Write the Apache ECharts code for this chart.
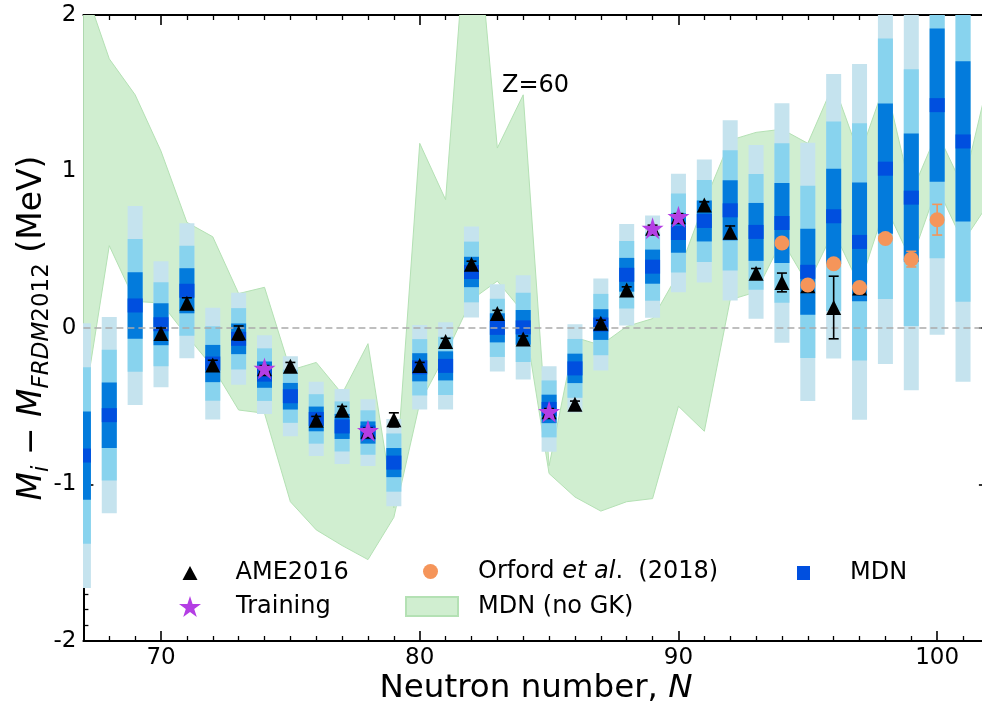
<!DOCTYPE html>
<html><head><meta charset="utf-8">
<script src="https://cdn.jsdelivr.net/npm/echarts@6/dist/echarts.min.js"></script>
<style>html,body{margin:0;padding:0;background:#fff}#c{width:982px;height:710px}</style>
</head><body><div id="c"></div>
<script>
// ---------------- data ----------------
const mdnN = [67,68,69,70,71,72,73,74,75,76,77,78,79,80,81,82,83,84,85,86,87,88,89,90,91,92,93,94,95,96,97,98,99,100,101];
const mdnMean = [-0.815,-0.557,0.144,0.024,0.238,-0.227,-0.069,-0.298,-0.436,-0.581,-0.629,-0.668,-0.860,-0.251,-0.242,0.358,0.001,0.004,-0.517,-0.258,0.022,0.340,0.392,0.607,0.684,0.752,0.614,0.671,0.359,0.714,0.550,1.018,0.833,1.424,1.192];
const mdnSigma = [0.282,0.209,0.212,0.134,0.144,0.119,0.098,0.084,0.085,0.079,0.080,0.071,0.093,0.090,0.093,0.097,0.093,0.111,0.091,0.094,0.098,0.108,0.109,0.126,0.131,0.192,0.185,0.255,0.275,0.303,0.379,0.416,0.410,0.489,0.512];

const ameN   = [70,71,72,73,74,75,76,77,78,79,80,81,82,83,84,85,86,87,88,89,90,91,92,93,94,95,96,97];
const ameVal = [-0.035,0.158,-0.236,-0.032,-0.26,-0.245,-0.59,-0.526,-0.66,-0.587,-0.24,-0.086,0.407,0.093,-0.071,-0.535,-0.487,0.03,0.243,0.637,0.711,0.786,0.612,0.35,0.291,0.27,0.131,0.255];
const ameErr = [0.035,0.035,0.03,0.045,0.02,0.025,0.025,0.025,0.02,0.045,0.02,0.02,0.02,0.02,0.02,0.02,0.02,0.02,0.02,0.02,0.02,0.02,0.04,0.03,0.06,0.03,0.2,0.03];

const trainN   = [74,78,85,89,90];
const trainVal = [-0.258,-0.656,-0.535,0.637,0.711];

const orfordN   = [94,95,96,97,98,99,100];
const orfordVal = [0.543,0.275,0.411,0.258,0.572,0.44,0.692];
const orfordErr = [0.02,0.02,0.02,0.02,0.02,0.05,0.098];

const gkN     = [67,68,69,70,71,72,73,74,75,76,77,78,79,80,81,82,83,84,85,86,87,88,89,90,91,92,93,94,95,96,97,98,99,100,101,102];
const gkUpper = [2.2,1.72,1.49,1.13,0.675,0.583,0.22,0.26,-0.27,-0.22,-0.42,-0.10,-1.15,1.18,0.82,3.0,1.15,1.49,-0.88,-0.06,-0.11,0.01,0.06,0.35,0.80,1.20,1.25,1.27,1.18,1.56,1.10,1.57,0.86,1.25,0.90,1.60];
const gkLower = [-0.52,0.526,0.17,0.16,-0.05,-0.25,-0.524,-0.545,-1.11,-1.29,-1.39,-1.48,-1.21,-0.48,-0.17,0.18,0.30,0.10,-0.93,-1.08,-1.17,-1.11,-1.09,-0.50,-0.66,0.18,0.23,0.56,0.28,0.62,0.27,0.78,0.43,0.90,0.55,0.80];

const xRange = [67, 102];
const yRange = [-2, 2];

// ---------------- styles ----------------
const FONT = 'DejaVu Sans';
const GREEN = '#d0eed0', GREEN_EDGE = '#b4e1b4';
const C_LIGHT = '#c5e3ee', C_SKY = '#88d3ee', C_BLUE = '#037bdc', C_DARK = '#004fdf';
const ORANGE = '#f5955a', PURPLE = '#b43ee4';
const starPath = 'path://M50,2 L61.2,36.2 L97.5,36.2 L68.2,57.6 L79.4,91.8 L50,70.6 L20.6,91.8 L31.8,57.6 L2.5,36.2 L38.8,36.2 Z';

const chart = echarts.init(document.getElementById('c'), null, {renderer:'canvas', width:982, height:710});

function errRender(color, capW, lw) {
  return function (params, api) {
    const x = api.value(0), v = api.value(1), e = api.value(2);
    const t = api.coord([x, v + e]), b = api.coord([x, v - e]);
    const st = {stroke: color, lineWidth: lw};
    return {type:'group', children:[
      {type:'line', shape:{x1:t[0], y1:t[1], x2:b[0], y2:b[1]}, style:st},
      {type:'line', shape:{x1:t[0]-capW/2, y1:t[1], x2:t[0]+capW/2, y2:t[1]}, style:st},
      {type:'line', shape:{x1:b[0]-capW/2, y1:b[1], x2:b[0]+capW/2, y2:b[1]}, style:st}
    ]};
  };
}

function xAxisDef(pos, showLabel) {
  return {
    type:'value', position:pos, min:xRange[0], max:xRange[1], minInterval:10, maxInterval:10,
    axisLine:{show:true, onZero:false, lineStyle:{color:'#000', width:2}},
    axisTick:{show:true, inside:true, length:10, lineStyle:{color:'#000', width:1.6}},
    minorTick:{show:true, splitNumber:10, length:5, lineStyle:{color:'#000', width:1.3}},
    splitLine:{show:false},
    axisLabel:{show:showLabel, showMinLabel:false, showMaxLabel:false, fontSize:23, color:'#000', fontFamily:FONT, margin:6}
  };
}
function yAxisDef(pos, showLabel) {
  return {
    type:'value', position:pos, min:yRange[0], max:yRange[1], interval:1,
    axisLine:{show:true, onZero:false, lineStyle:{color:'#000', width:2}},
    axisTick:{show:true, inside:true, length:10, lineStyle:{color:'#000', width:1.6}},
    minorTick:{show:true, splitNumber:10, length:5, lineStyle:{color:'#000', width:1.3}},
    splitLine:{show:false},
    axisLabel:{show:showLabel, fontSize:23, color:'#000', fontFamily:FONT, margin:7}
  };
}

function legendItem(name, left, top, w, h, pad, extraText, icon) {
  return {
    data:[icon ? {name:name, icon:icon} : name], left:left, top:top, itemWidth:w, itemHeight:h, padding:0, selectedMode:false,
    textStyle:Object.assign({fontSize:24, color:'#000', fontFamily:FONT, padding:[0,0,0,pad]}, extraText||{})
  };
}

const option = {
  animation:false,
  backgroundColor:'#fff',
  textStyle:{fontFamily:FONT},
  grid:{left:83.4, top:15, width:905.5, height:626, containLabel:false, outerBoundsMode:'none'},
  xAxis:[xAxisDef('bottom', true), xAxisDef('top', false)],
  yAxis:[yAxisDef('left', true), yAxisDef('right', false)],
  legend:[
    legendItem('AME2016', 182.5, 561, 15, 14, 33),
    legendItem('Training', 179, 594.5, 22, 21, 30),
    Object.assign(legendItem('Orford et al. (2018)', 423, 559.5, 15, 15, 35, {
      rich:{n:{fontSize:24, fontFamily:FONT, color:'#000'}, i:{fontSize:24, fontFamily:FONT, fontStyle:'italic', color:'#000'}}
    }), {formatter:function(){return '{n|Orford }{i|et al}{n|.  (2018)}';}}),
    legendItem('MDN (no GK)', 405, 594.5, 52, 19, 15, null, 'rect'),
    legendItem('MDN', 797, 561, 13, 14, 35, null, 'rect')
  ],
  graphic:[
    {type:'text', x:502, y:86, style:{text:'Z=60', font:'24px "DejaVu Sans"', fill:'#000', align:'left', verticalAlign:'middle'}},
    {type:'text', x:536, y:689, style:{
      text:'{n|Neutron number, }{i|N}', align:'center', verticalAlign:'middle',
      rich:{n:{fontSize:32.5, fontFamily:FONT, fill:'#000'}, i:{fontSize:32.5, fontFamily:FONT, fontStyle:'italic', fill:'#000'}}
    }},
    {type:'text', x:32, y:328, rotation:Math.PI/2, style:{
      text:'{mi|M}{si|i}{n| − }{mi|M}{si|FRDM}{sn|2012}{n| (MeV)}', align:'center', verticalAlign:'middle',
      rich:{
        mi:{fontSize:33, lineHeight:33, verticalAlign:'top', fontFamily:FONT, fontStyle:'italic', fill:'#000'},
        n:{fontSize:33, lineHeight:33, verticalAlign:'top', fontFamily:FONT, fill:'#000'},
        si:{fontSize:23, lineHeight:23, verticalAlign:'top', padding:[15,0,0,0], fontFamily:FONT, fontStyle:'italic', fill:'#000'},
        sn:{fontSize:23, lineHeight:23, verticalAlign:'top', padding:[15,0,0,0], fontFamily:FONT, fill:'#000'}
      }
    }}
  ],
  series:[
    {
      type:'custom', name:'MDN (no GK)', z:1, clip:true, silent:true,
      itemStyle:{color:GREEN, borderColor:GREEN_EDGE, borderWidth:1},
      data: gkN.map((n,i)=>[n, gkLower[i], gkUpper[i]]),
      renderItem:function(params, api){
        if (params.dataIndex !== 0) return null;
        const pts = [];
        for (let i = 0; i < gkN.length; i++) pts.push(api.coord([gkN[i], gkUpper[i]]));
        for (let i = gkN.length - 1; i >= 0; i--) pts.push(api.coord([gkN[i], gkLower[i]]));
        return {type:'polygon', shape:{points:pts}, style:{fill:GREEN, stroke:GREEN_EDGE, lineWidth:1}};
      }
    },
    {
      type:'line', name:'zero', data:[], z:2, silent:true,
      markLine:{silent:true, symbol:'none', label:{show:false},
        lineStyle:{type:[7,4], color:'#aaaaaa', width:1.5}, data:[{yAxis:0}]}
    },
    {
      type:'custom', name:'MDN', z:3, clip:true, silent:true,
      itemStyle:{color:C_DARK, opacity:1},
      data: mdnN.map((n,i)=>[n, mdnMean[i], mdnSigma[i]]),
      renderItem:function(params, api){
        const n = api.value(0), m = api.value(1), s = api.value(2);
        const w = 15;
        function band(k, color){
          const p1 = api.coord([n, m + k*s]), p2 = api.coord([n, m - k*s]);
          return {type:'rect', shape:{x:p1[0]-w/2, y:p1[1], width:w, height:p2[1]-p1[1]}, style:{fill:color}};
        }
        const c = api.coord([n, m]);
        return {type:'group', children:[band(3, C_LIGHT), band(2, C_SKY), band(1, C_BLUE),
          {type:'rect', shape:{x:c[0]-w/2, y:c[1]-7, width:w, height:14}, style:{fill:C_DARK}}]};
      }
    },
    {
      type:'custom', name:'AME err', z:5, clip:true, silent:true,
      data: ameN.map((n,i)=>[n, ameVal[i], ameErr[i]]),
      renderItem: errRender('#000', 10, 1.6)
    },
    {
      type:'scatter', name:'AME2016', z:6, symbol:'triangle', symbolSize:15, silent:true,
      itemStyle:{color:'#000', opacity:1},
      data: ameN.map((n,i)=>[n, ameVal[i]])
    },
    {
      type:'custom', name:'Orford err', z:7, clip:true, silent:true,
      data: orfordN.map((n,i)=>[n, orfordVal[i], orfordErr[i]]),
      renderItem: errRender(ORANGE, 10, 1.6)
    },
    {
      type:'scatter', name:'Orford et al. (2018)', z:8, symbol:'circle', symbolSize:15, silent:true,
      itemStyle:{color:ORANGE, opacity:1},
      data: orfordN.map((n,i)=>[n, orfordVal[i]])
    },
    {
      type:'scatter', name:'Training', z:9, symbol:starPath, symbolSize:22, silent:true,
      itemStyle:{color:PURPLE, opacity:1},
      data: trainN.map((n,i)=>[n, trainVal[i]])
    }
  ]
};
chart.setOption(option);
</script>
</body></html>
